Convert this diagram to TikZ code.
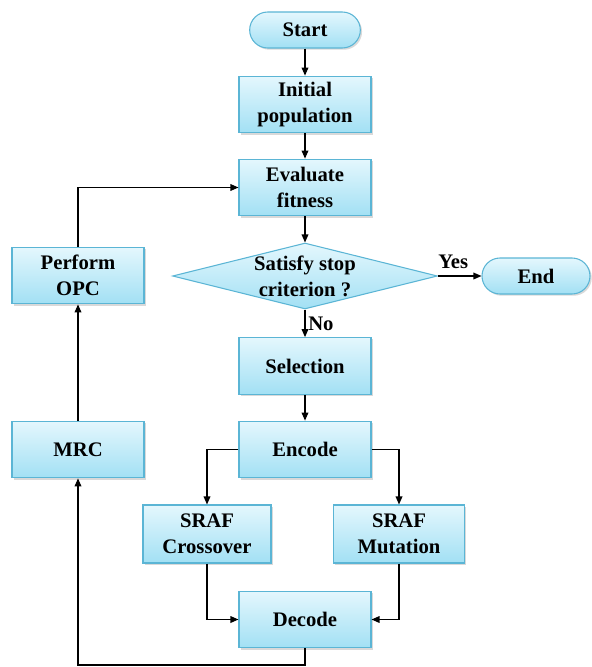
\documentclass[tikz,border=0pt]{standalone}
\usepackage{fontspec}
\setmainfont{Liberation Serif}[BoldFont={Liberation Serif Bold}]
\usetikzlibrary{shapes.geometric, shadows, arrows.meta}
\definecolor{boxline}{HTML}{5BB5D5}
\definecolor{boxtop}{HTML}{E4F7FD}
\definecolor{boxbot}{HTML}{A2E0F4}

\begin{document}
\begin{tikzpicture}
        [x=0.75pt, y=-0.75pt, every node/.style={font=\rmfamily\fontsize{15.5}{19.5}\selectfont\bfseries, align=center, text=black},
         box/.style={draw=boxline, line width=0.8pt, top color=boxtop, bottom color=boxbot, inner sep=0, minimum width=99pt, minimum height=42.5pt, drop shadow={opacity=0.3, shadow xshift=1.3pt, shadow yshift=-1.3pt}},
         pill/.style={box, rounded corners=13.5pt, minimum width=83pt, minimum height=27pt},
         decide/.style={diamond, aspect=4, draw=boxline, line width=0.8pt, top color=boxtop, bottom color=boxbot, inner sep=0, minimum width=198.75pt, minimum height=49.5pt},
         flow/.style={line width=0.9pt, -{Triangle[length=6pt, width=5pt]}}]

        \useasboundingbox (0, 0) rectangle (592, 667);

        \node[pill] (start) at (305, 30) {Start};
        \node[box] (init) at (305, 104.5) {Initial\\population};
        \node[box] (eval) at (305, 187.5) {Evaluate\\fitness};
        \node[decide, label=center:{Satisfy stop\\criterion ?}] (stop) at (305, 276) {};
        \node[pill, minimum width=81pt] (end) at (536, 276) {End};
        \node[box] (opc) at (78, 275.5) {Perform\\OPC};
        \node[box] (sel) at (305, 366) {Selection};
        \node[box] (enc) at (305, 449.5) {Encode};
        \node[box] (mrc) at (78, 449.5) {MRC};
        \node[box, minimum width=96pt, minimum height=43.5pt] (cross) at (207, 534) {SRAF\\Crossover};
        \node[box, minimum width=98pt, minimum height=43.5pt] (mut) at (399, 534) {SRAF\\Mutation};
        \node[box] (dec) at (305, 619.5) {Decode};
        \coordinate (back) at (305, 665);

        \draw[flow] (start) -- (init);
        \draw[flow] (init) -- (eval);
        \draw[flow] (eval) -- (stop);
        \draw[flow] (stop.east) -- node[pos=0.35, above, yshift=2pt] {Yes} (end.west);
        \draw[flow] (stop) -- node[right, inner sep=2pt] {No} (sel);
        \draw[flow] (sel) -- (enc);
        \draw[flow] (enc.west) -| (cross.north);
        \draw[flow] (enc.east) -| (mut.north);
        \draw[flow] (cross.south) |- (dec.west);
        \draw[flow] (mut.south) |- (dec.east);
        \draw[flow] (dec.south) -- (back) -| (mrc.south);
        \draw[flow] (mrc) -- (opc);
        \draw[flow] (opc.north) |- (eval.west);
      \end{tikzpicture}
\end{document}
